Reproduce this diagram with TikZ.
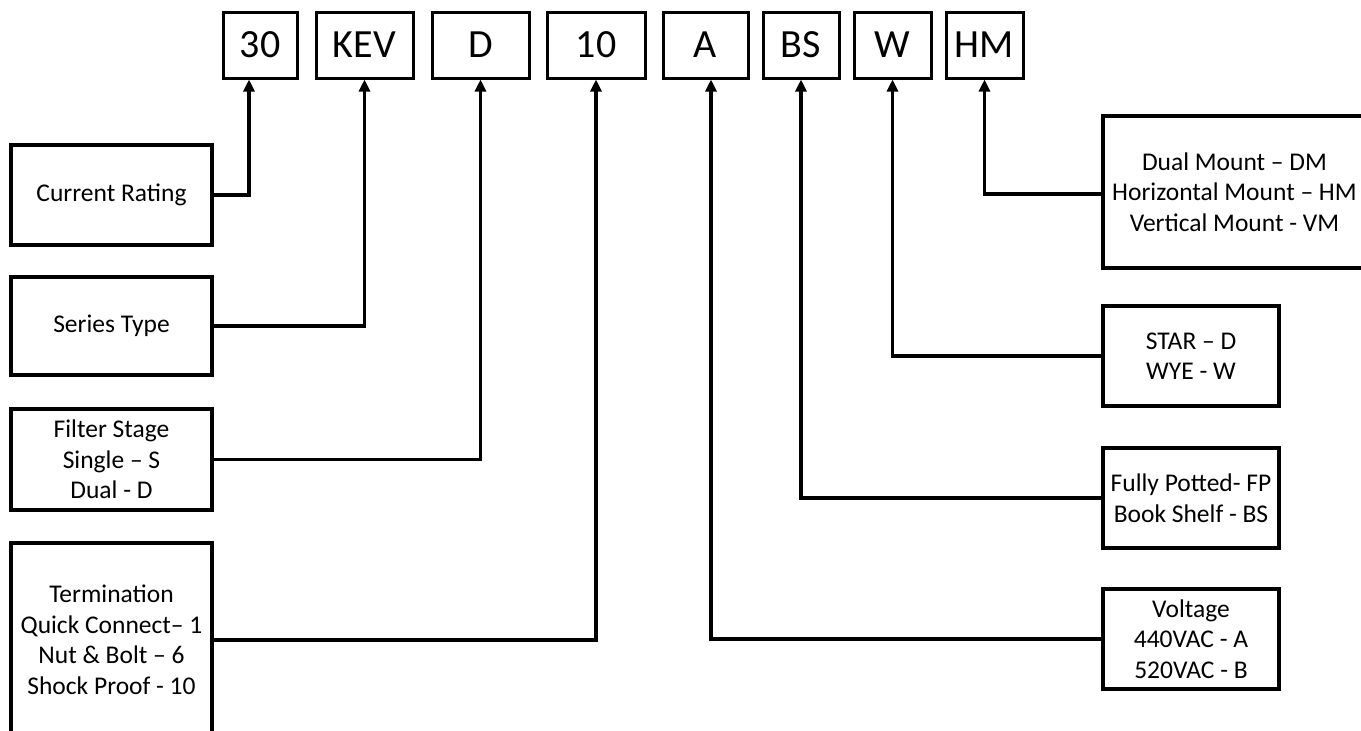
\documentclass[tikz,border=0pt]{standalone}
\usepackage{fontspec}
\setmainfont{Carlito}
\usetikzlibrary{arrows.meta}
\begin{document}
\begin{tikzpicture}[x=1pt,y=-1pt,
  topbox/.style={draw,line width=3pt,minimum height=66pt,inner sep=0pt,font=\fontsize{40}{48}\selectfont},
  sidebox/.style={draw,line width=3.2pt,inner sep=0pt,align=center,font=\fontsize{25.5}{30.5}\selectfont},
  conn/.style={line width=3.2pt,-{Triangle[length=12pt,width=11pt]}}]
\clip (0,0) rectangle (1361,731);
% top code boxes
\node[topbox,minimum width=74pt] (t30) at (260,45) {30};
\node[topbox,minimum width=97pt] (tkev) at (364.5,45) {KEV};
\node[topbox,minimum width=97pt] (td) at (480.5,45) {D};
\node[topbox,minimum width=98pt] (t10) at (596,45) {10};
\node[topbox,minimum width=85pt] (ta) at (705.5,45) {A};
\node[topbox,minimum width=76pt] (tbs) at (801,45) {BS};
\node[topbox,minimum width=77pt] (tw) at (892.5,45) {W};
\node[topbox,minimum width=77pt] (thm) at (984.5,45) {HM};
% left boxes
\node[sidebox,minimum width=201pt,minimum height=100pt] (cr) at (111.5,195) {Current Rating};
\node[sidebox,minimum width=201pt,minimum height=98pt] (st) at (111.5,326) {Series Type};
\node[sidebox,minimum width=201pt,minimum height=101pt] (fs) at (111.5,459.5) {Filter Stage\\Single – S\\Dual - D};
\node[sidebox,minimum width=201pt,minimum height=194pt] (tm) at (111.5,640) {Termination\\Quick Connect– 1\\Nut \& Bolt – 6\\Shock Proof - 10};
% right boxes
\node[sidebox,minimum width=263pt,minimum height=152pt] (mt) at (1234.5,192) {Dual Mount – DM\\Horizontal Mount – HM\\Vertical Mount - VM};
\node[sidebox,minimum width=176pt,minimum height=100pt] (sw) at (1191,356) {STAR – D\\WYE - W};
\node[sidebox,minimum width=176pt,minimum height=100pt] (fp) at (1191,498) {Fully Potted- FP\\Book Shelf - BS};
\node[sidebox,minimum width=176pt,minimum height=100pt] (vo) at (1191,639) {Voltage\\440VAC - A\\520VAC - B};
% connectors
\draw[conn] (cr.east) -| ([xshift=-11pt]t30.south);
\draw[conn] (st.east) -| (tkev.south);
\draw[conn] (fs.east) -| (td.south);
\draw[conn] (tm.east) -| (t10.south);
\draw[conn] (vo.west) -| ([xshift=5.5pt]ta.south);
\draw[conn] (fp.west) -| (tbs.south);
\draw[conn] (sw.west) -| (tw.south);
\draw[conn] ([yshift=-2pt]mt.west) -| (thm.south);
\end{tikzpicture}
\end{document}
